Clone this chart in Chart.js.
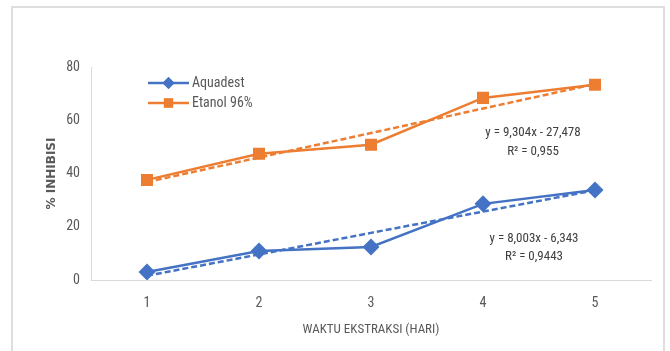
<!DOCTYPE html>
<html>
<head>
<meta charset="utf-8">
<script src="https://cdn.jsdelivr.net/npm/chart.js@4"></script>
<style>
html,body{margin:0;padding:0;background:#fff;}
#wrap{position:relative;width:670px;height:351px;overflow:hidden;}
#frame{position:absolute;left:11px;top:6px;width:654px;height:360px;border:2px solid #dedede;box-sizing:border-box;pointer-events:none;}
canvas{position:absolute;left:0;top:0;}
</style>
</head>
<body>
<div id="wrap">
<canvas id="c" width="670" height="351"></canvas>
<div id="frame"></div>
</div>
<script>
const categories = ['1', '2', '3', '4', '5'];
const aquadest = [3.0, 10.9, 12.4, 28.6, 33.8];
const etanol = [37.6, 47.4, 50.8, 68.4, 73.3];
const aquadestTrend = [1.6, 9.6, 17.7, 25.7, 33.7];
const etanolTrend = [36.8, 46.0, 55.2, 64.4, 73.6];
const yTicks = [0, 20, 40, 60, 80];
const seriesNames = ['Aquadest', 'Etanol 96%'];
const equations = [
  ['y = 9,304x - 27,478', 'R\u00B2 = 0,955'],
  ['y = 8,003x - 6,343', 'R\u00B2 = 0,9443']
];
const yTitle = '% INHIBISI';
const xTitle = 'WAKTU EKSTRAKSI (HARI)';

const BLUE = '#4472C4';
const ORANGE = '#ED7D31';
const TXT = '#595959';
const FONT = "'Liberation Sans Narrow', 'Roboto Condensed', 'Liberation Sans', sans-serif";

const overlay = {
  id: 'overlay',
  afterDatasetsDraw(chart) {
    const ctx = chart.ctx;
    ctx.save();
    const items = [
      {name: seriesNames[0], color: BLUE, style: 'rectRot', y: 83, r: 6},
      {name: seriesNames[1], color: ORANGE, style: 'rect', y: 103, r: 6.5}
    ];
    items.forEach(it => {
      ctx.strokeStyle = it.color;
      ctx.lineWidth = 2.5;
      ctx.beginPath();
      ctx.moveTo(148, it.y);
      ctx.lineTo(189, it.y);
      ctx.stroke();
      ctx.fillStyle = it.color;
      Chart.helpers.drawPoint(ctx, {pointStyle: it.style, radius: it.r, rotation: 0, borderWidth: 0}, 168.5, it.y);
      ctx.fill();
      ctx.fillStyle = TXT;
      ctx.font = '14px ' + FONT;
      ctx.textAlign = 'left';
      ctx.textBaseline = 'middle';
      ctx.fillText(it.name, 192, it.y);
    });
    ctx.fillStyle = '#404040';
    ctx.font = '13px ' + FONT;
    ctx.textAlign = 'center';
    ctx.textBaseline = 'middle';
    ctx.fillText(equations[0][0], 533, 133);
    ctx.fillText(equations[0][1], 533, 152);
    ctx.fillText(equations[1][0], 534, 239);
    ctx.fillText(equations[1][1], 534, 257);
    ctx.restore();
  }
};

new Chart(document.getElementById('c'), {
  type: 'line',
  data: {
    labels: categories,
    datasets: [
      {label: seriesNames[0], data: aquadest, borderColor: BLUE, backgroundColor: BLUE, borderWidth: 2.5,
       pointStyle: 'rectRot', pointRadius: 8.5, pointBorderWidth: 0, tension: 0, order: 1},
      {label: seriesNames[1], data: etanol, borderColor: ORANGE, backgroundColor: ORANGE, borderWidth: 2.5,
       pointStyle: 'rect', pointRadius: 8.5, pointBorderWidth: 0, tension: 0, order: 1},
      {label: 'trend1', data: aquadestTrend, borderColor: BLUE, borderWidth: 2.5, borderDash: [6, 3],
       pointRadius: 0, tension: 0, order: 0},
      {label: 'trend2', data: etanolTrend, borderColor: ORANGE, borderWidth: 2.5, borderDash: [6, 3],
       pointRadius: 0, tension: 0, order: 0}
    ]
  },
  options: {
    responsive: false,
    animation: false,
    devicePixelRatio: 1,
    layout: {padding: {left: 0, top: 67, right: 19, bottom: 0}},
    plugins: {legend: {display: false}, tooltip: {enabled: false}},
    scales: {
      x: {
        offset: true,
        grid: {display: false, drawTicks: false},
        border: {display: true, color: '#d9d9d9', width: 1},
        ticks: {color: TXT, font: {family: FONT, size: 14}, padding: 15},
        title: {display: true, text: xTitle, color: TXT, font: {family: FONT, size: 13}, padding: {top: 10, bottom: 13}},
        afterFit(s) { s.height = 71; }
      },
      y: {
        min: 0, max: 80,
        afterBuildTicks(s) { s.ticks = yTicks.map(v => ({value: v})); },
        grid: {display: false, drawTicks: false},
        border: {display: true, color: '#d9d9d9', width: 1},
        ticks: {color: TXT, font: {family: FONT, size: 14}, padding: 11},
        title: {display: true, text: yTitle, color: TXT, font: {family: "'DejaVu Sans', sans-serif", size: 12, weight: 'bold'}, padding: {top: 45, bottom: 0}},
        afterFit(s) { s.width = 91; }
      }
    }
  },
  plugins: [overlay]
});
</script>
</body>
</html>
